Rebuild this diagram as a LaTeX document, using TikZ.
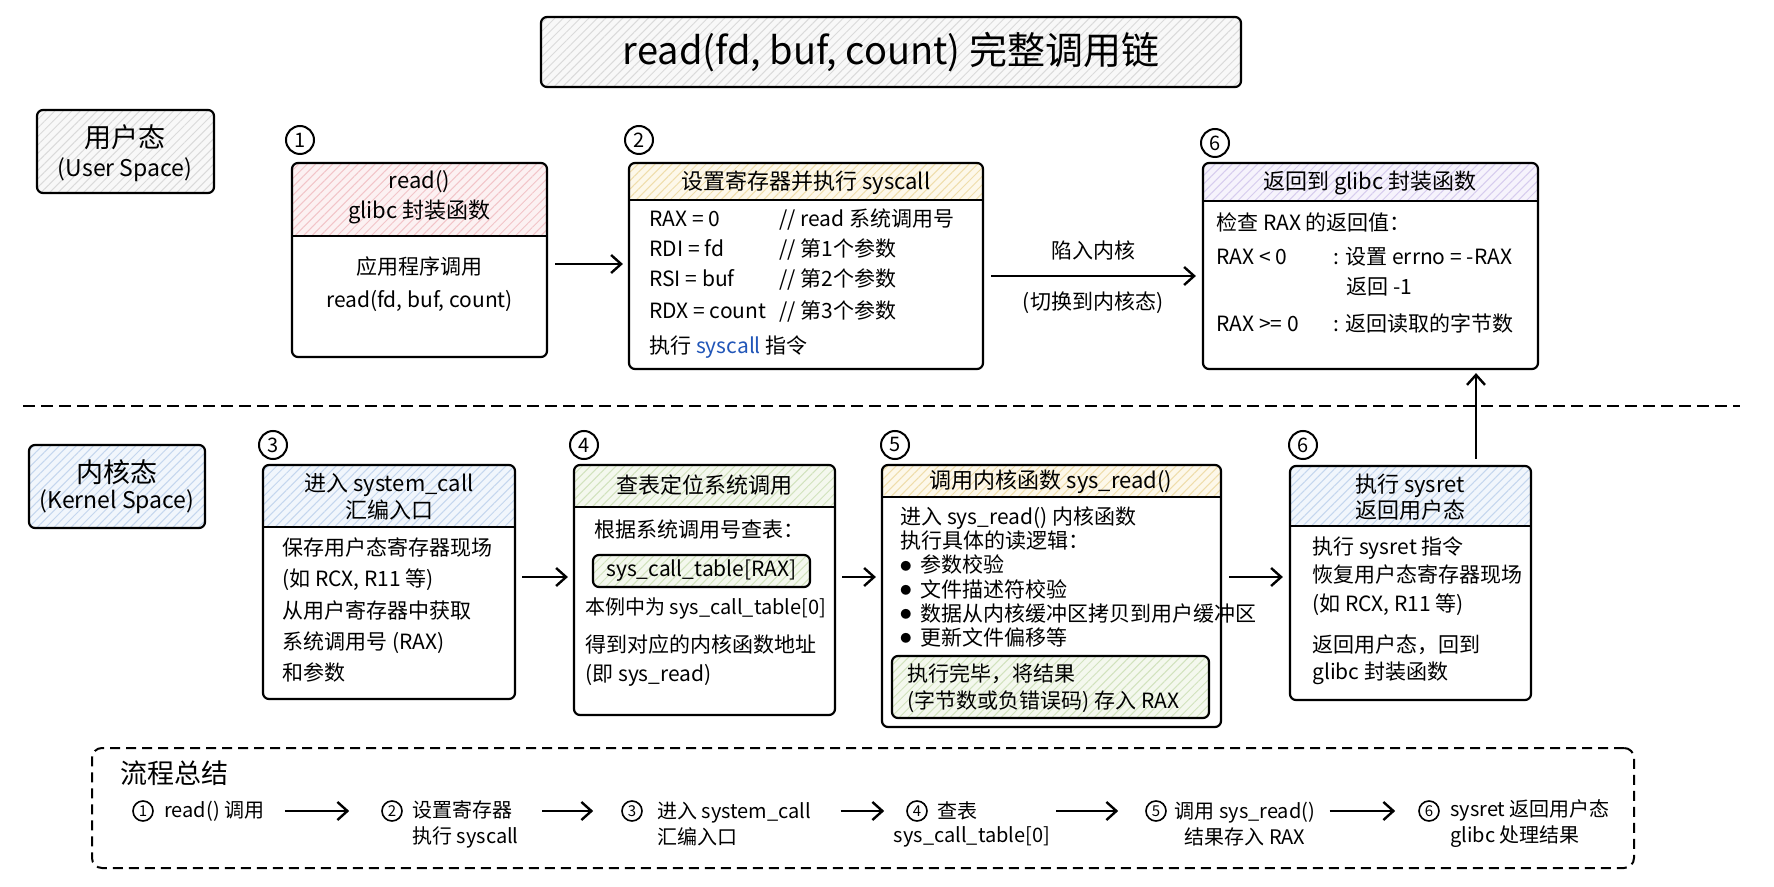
\documentclass[tikz,border=0pt]{standalone}
\usepackage{fontspec}
\setmainfont{Noto Sans CJK SC}
\usetikzlibrary{arrows.meta,fit,patterns.meta}

\definecolor{pinkbg}{HTML}{FCF1F2}
\definecolor{pinkln}{HTML}{F2C4C8}
\definecolor{yelbg}{HTML}{FDF8EA}
\definecolor{yelln}{HTML}{EFDDAA}
\definecolor{purbg}{HTML}{F6F3FC}
\definecolor{purln}{HTML}{D6CCEE}
\definecolor{blubg}{HTML}{F1F6FC}
\definecolor{bluln}{HTML}{C4D6EE}
\definecolor{grnbg}{HTML}{F4F8EE}
\definecolor{grnln}{HTML}{D1E2BD}
\definecolor{grybg}{HTML}{F8F8F8}
\definecolor{gryln}{HTML}{DADADA}
\definecolor{codeblue}{HTML}{2156B8}

\newcommand{\bodyfont}{\fontsize{10.5}{15}\selectfont}
\newcommand{\hdrfont}{\fontsize{11}{15}\selectfont}
\newcommand{\sumfont}{\fontsize{10}{13}\selectfont}
\newcommand{\bul}{\makebox[10pt][l]{\raisebox{0.25ex}{\fontsize{5.5}{5.5}\selectfont ●}}}

\tikzset{>={Straight Barb[length=5pt,width=9pt]}}
\tikzset{
  box/.style={draw, line width=1.1pt, rounded corners=3pt, fill=white, inner sep=0pt},
  hdr/.style n args={3}{path picture={
    \fill[#1] (path picture bounding box.north west) rectangle ([yshift=-#3]path picture bounding box.north east);
    \fill[pattern={Lines[angle=45,distance=3pt,line width=0.5pt]}, pattern color=#2] (path picture bounding box.north west) rectangle ([yshift=-#3]path picture bounding box.north east);
    \draw[line width=1.1pt] ([yshift=-#3]path picture bounding box.north west) -- ([yshift=-#3]path picture bounding box.north east);
  }},
  full/.style 2 args={path picture={
    \fill[#1] (path picture bounding box.south west) rectangle (path picture bounding box.north east);
    \fill[pattern={Lines[angle=45,distance=3pt,line width=0.5pt]}, pattern color=#2] (path picture bounding box.south west) rectangle (path picture bounding box.north east);
  }},
  circ/.style={draw, circle, line width=1pt, minimum size=14pt, inner sep=0pt, font=\fontsize{10}{12}\selectfont},
  scirc/.style={draw, circle, line width=0.8pt, minimum size=10pt, inner sep=0pt, font=\fontsize{7.5}{9}\selectfont},
  txt/.style={anchor=west, inner sep=0pt, font=\bodyfont},
  arr/.style={->, line width=1.2pt},
  sepline/.style={line width=1pt, dash pattern=on 6pt off 3pt},
  sumbox/.style={draw, line width=1pt, dash pattern=on 5pt off 3pt, rounded corners=5pt, inner sep=0pt},
}

\begin{document}
\begin{tikzpicture}[x=0.5pt, y=-0.5pt]
\useasboundingbox (0,0) rectangle (1774,887);

% title
\node[box, full={grybg}{gryln}, fit={(541,17) (1241,87)}] (title) {};
\node[font=\fontsize{19}{22}\selectfont] (titletxt) at (title) {read(fd, buf, count) 完整调用链};

% space labels
\node[box, full={grybg}{gryln}, fit={(37,110) (214,193)}] (usr) {};
\node[font=\fontsize{13.5}{16}\selectfont] (usrtxt) at (125,137) {用户态};
\node[font=\fontsize{11.5}{14}\selectfont] (usrsub) at (125,170) {(User Space)};
\node[box, full={blubg}{bluln}, fit={(29,445) (205,528)}] (kern) {};
\node[font=\fontsize{13.5}{16}\selectfont] (kerntxt) at (117,472) {内核态};
\node[font=\fontsize{11.5}{14}\selectfont] (kernsub) at (117,502) {(Kernel Space)};

% user space row
\node[circ] (c1) at (300,140) {1};
\node[box, hdr={pinkbg}{pinkln}{36.5pt}, fit={(292,163) (547,357)}] (b1) {};
\node[font=\hdrfont, align=center] (b1h) at (419.5,197) {read()\\glibc 封装函数};
\node[font=\bodyfont, align=center] (b1b) at (419.5,284) {应用程序调用\\[1.5pt]read(fd, buf, count)};

\node[circ] (c2) at (639,140) {2};
\node[box, hdr={yelbg}{yelln}{18.5pt}, fit={(629,163) (983,369)}] (b2) {};
\node[font=\hdrfont] (b2h) at (806,183) {设置寄存器并执行 syscall};
\node[txt] (b2l1) at (649,220) {\makebox[65pt][l]{RAX = 0}// read 系统调用号};
\node[txt] (b2l2) at (649,250) {\makebox[65pt][l]{RDI = fd}// 第1个参数};
\node[txt] (b2l3) at (649,280) {\makebox[65pt][l]{RSI = buf}// 第2个参数};
\node[txt] (b2l4) at (649,312) {\makebox[65pt][l]{RDX = count}// 第3个参数};
\node[txt] (b2l5) at (649,347) {执行 \textcolor{codeblue}{syscall} 指令};

\node[circ] (c6u) at (1215,143) {6};
\node[box, hdr={purbg}{purln}{19pt}, fit={(1203,163) (1538,369)}] (b6u) {};
\node[font=\hdrfont] (b6uh) at (1370,183) {返回到 glibc 封装函数};
\node[txt] (b6ul1) at (1216,222) {检查 RAX 的返回值：};
\node[txt] (b6ul2) at (1216,257) {\makebox[58.5pt][l]{RAX < 0}: 设置 errno = -RAX};
\node[txt] (b6ul3) at (1346,287) {返回 -1};
\node[txt] (b6ul4) at (1216,324) {\makebox[58.5pt][l]{RAX >= 0}: 返回读取的字节数};

\coordinate (urow) at (0,264);
\coordinate (trap) at (0,276);
\draw[arr, shorten <=3.5pt, shorten >=2.5pt] (b1.east |- urow) -- (b2.west |- urow);
\draw[arr, shorten <=3.5pt, shorten >=3pt] (b2.east |- trap) -- (b6u.west |- trap)
  node[midway, above=4pt, font=\bodyfont] (traptxt) {陷入内核}
  node[midway, below=4pt, font=\bodyfont] (trapsub) {(切换到内核态)};

% separator
\draw[sepline] (23,406) -- (1740,406);

% kernel space row
\node[circ] (c3) at (273,445) {3};
\node[box, hdr={blubg}{bluln}{31pt}, fit={(263,465) (515,699)}] (b3) {};
\node[font=\hdrfont, align=center] (b3h) at (389,497) {进入 system\_call\\[-1.5pt]汇编入口};
\node[txt, align=left, font=\fontsize{10.5}{15.6}\selectfont] (b3b) at (282,610) {保存用户态寄存器现场\\(如 RCX, R11 等)\\从用户寄存器中获取\\系统调用号 (RAX)\\和参数};

\node[circ] (c4) at (584,445) {4};
\node[box, hdr={grnbg}{grnln}{21pt}, fit={(574,465) (835,715)}] (b4) {};
\node[font=\hdrfont] (b4h) at (704.5,485) {查表定位系统调用};
\node[txt] (b4l1) at (594,530) {根据系统调用号查表：};
\node[box, full={grnbg}{grnln}, fit={(593,555) (810,587)}] (tbl) {};
\node[font=\bodyfont] (tbltxt) at (tbl) {sys\_call\_table[RAX]};
\node[txt, font=\fontsize{10}{13}\selectfont] (b4l2) at (585,608) {本例中为 sys\_call\_table[0]};
\node[txt] (b4l3) at (585,645) {得到对应的内核函数地址};
\node[txt] (b4l4) at (585,675) {(即 sys\_read)};

\node[circ] (c5) at (895,445) {5};
\node[box, hdr={yelbg}{yelln}{16pt}, fit={(882,465) (1221,727)}] (b5) {};
\node[font=\hdrfont] (b5h) at (1051,482) {调用内核函数 sys\_read()};
\node[txt, align=left, font=\fontsize{10.5}{12.1}\selectfont] (b5b) at (900,577) {进入 sys\_read() 内核函数\\执行具体的读逻辑：\\\bul 参数校验\\\bul 文件描述符校验\\\bul 数据从内核缓冲区拷贝到用户缓冲区\\\bul 更新文件偏移等};
\node[box, full={grnbg}{grnln}, fit={(892,656) (1209,718)}] (res) {};
\node[txt, align=left, font=\fontsize{10.5}{13.5}\selectfont] (restxt) at (907,688) {执行完毕，将结果\\(字节数或负错误码) 存入 RAX};

\node[circ] (c6k) at (1303,445) {6};
\node[box, hdr={blubg}{bluln}{30pt}, fit={(1290,466) (1531,700)}] (b6k) {};
\node[font=\hdrfont, align=center] (b6kh) at (1410,497) {执行 sysret\\[-2pt]返回用户态};
\node[txt, align=left, font=\fontsize{10.5}{14.3}\selectfont] (b6kb1) at (1312,576) {执行 sysret 指令\\恢复用户态寄存器现场\\(如 RCX, R11 等)};
\node[txt, align=left, font=\fontsize{10.5}{13.5}\selectfont] (b6kb2) at (1312,660) {返回用户态，回到\\glibc 封装函数};

\coordinate (krow) at (0,577);
\draw[arr, shorten <=3pt, shorten >=2.5pt] (b3.east |- krow) -- (b4.west |- krow);
\draw[arr, shorten <=3pt, shorten >=2.5pt] (b4.east |- krow) -- (b5.west |- krow);
\draw[arr, shorten <=3.5pt, shorten >=3pt] (b5.east |- krow) -- (b6k.west |- krow);

% back to user space
\coordinate (upx) at (1476,0);
\draw[arr, shorten <=3pt, shorten >=1.5pt] (b6k.north -| upx) -- (b6u.south -| upx);

% summary
\node[sumbox, fit={(92,748) (1634,868)}] (sum) {};
\node[txt, font=\fontsize{13.5}{16}\selectfont] (sumtxt) at (120,773) {流程总结};
\node[scirc] (s1c) at (143,811) {1};
\node[txt, font=\sumfont] (s1) at (164,811) {read() 调用};
\node[scirc] (s2c) at (392,811) {2};
\node[txt, font=\sumfont, align=left] (s2) at (412,824) {设置寄存器\\执行 syscall};
\node[scirc] (s3c) at (632,811) {3};
\node[txt, font=\sumfont, align=left] (s3) at (657,824) {进入 system\_call\\汇编入口};
\node[scirc] (s4c) at (917,811) {4};
\node[txt, font=\sumfont] (s4) at (937,811) {查表};
\node[font=\sumfont, inner sep=0pt] (s4b) at (972,837) {sys\_call\_table[0]};
\node[scirc] (s5c) at (1156,811) {5};
\node[font=\sumfont, align=center, inner sep=0pt] (s5) at (1245,824) {调用 sys\_read()\\结果存入 RAX};
\node[scirc] (s6c) at (1429,811) {6};
\node[txt, font=\sumfont, align=left] (s6) at (1450,824) {sysret 返回用户态\\glibc 处理结果};

\draw[arr, shorten <=10pt, shorten >=16pt] (s1.east) -- (s2c.west);
\draw[arr, shorten <=11.5pt, shorten >=14pt] (s2.east |- s3c.west) -- (s3c.west);
\draw[arr, shorten <=14.5pt, shorten >=11pt] (s3.east |- s4c.west) -- (s4c.west);
\draw[arr, shorten <=3pt, shorten >=13.5pt] (s4b.east |- s5c.west) -- (s5c.west);
\draw[arr, shorten <=7pt, shorten >=11.5pt] (s5.east |- s6c.west) -- (s6c.west);
\end{tikzpicture}
\end{document}
